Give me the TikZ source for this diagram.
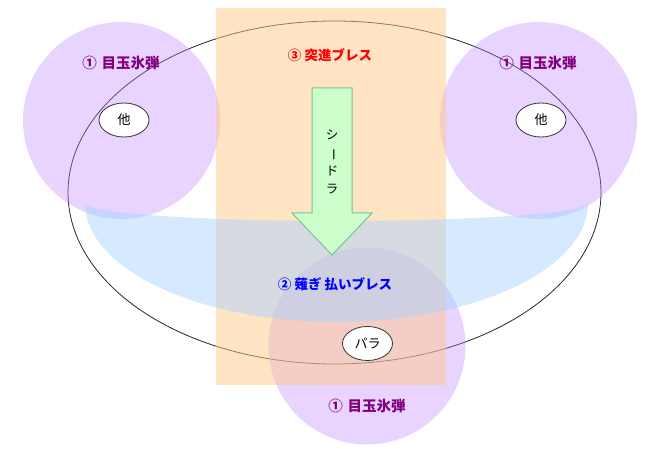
\documentclass[tikz,border=0pt]{standalone}
\usepackage{fontspec}
\setmainfont{Noto Sans CJK JP}
\usetikzlibrary{shapes.geometric}
\definecolor{rectorange}{RGB}{255,201,137}
\definecolor{bandblue}{RGB}{171,211,255}
\definecolor{circpurple}{RGB}{189,132,255}
\definecolor{arrowfill}{RGB}{204,255,204}
\definecolor{arrowline}{RGB}{120,195,145}
\definecolor{labpurple}{RGB}{128,0,128}
\tikzset{
  bubble/.style={circle, fill=circpurple, fill opacity=0.35, draw=none, minimum size=197pt, inner sep=0pt},
  oval/.style={ellipse, draw=black!80, line width=0.8pt, fill=white, minimum width=50pt, minimum height=34pt, inner sep=0pt, font=\fontsize{13}{15}\selectfont},
  lab/.style={font=\bfseries\fontsize{13.5}{16}\selectfont, inner sep=0pt},
  eyelab/.style={lab, text=labpurple, font=\bfseries\fontsize{14.5}{16}\selectfont},
}
\begin{document}
\begin{tikzpicture}[x=1pt,y=-1pt]
\useasboundingbox (0,0) rectangle (651,449);
% big ellipse outline
\draw[line width=0.8pt, black!85] (334.5,192.5) ellipse [x radius=266.5pt, y radius=171.5pt];
% purple circles
\node[bubble] (c1) at (121.5,120.5) {};
\node[bubble] (c2) at (538.5,120.5) {};
\node[bubble] (c3) at (367,346) {};
% orange rectangle
\fill[rectorange, fill opacity=0.5] (216,8) rectangle (446,385);
% blue band
\fill[bandblue, fill opacity=0.5] (85,203) arc[start angle=180, end angle=360, x radius=251.5pt, y radius=119pt]
  arc[start angle=0, end angle=-180, x radius=251.5pt, y radius=18pt] -- cycle;
% arrow
\filldraw[fill=arrowfill, draw=arrowline, line width=1pt]
  (312,88) -- (352,88) -- (352,213) -- (372,213) -- (332,255) -- (292,213) -- (312,213) -- cycle;
\node[align=center, inner sep=0pt, font=\fontsize{12.5}{17.7}\selectfont] (sd) at (332,162)
  {シ\\\rotatebox[origin=c]{-90}{ー}\\ド\\ラ};
% labels
\node[eyelab] (l1) at (121,63) {①\hspace{1.5pt} 目玉氷弾};
\node[eyelab] (l2) at (538,63) {①\hspace{1.5pt} 目玉氷弾};
\node[eyelab] (l3) at (367,406) {①\hspace{1.5pt} 目玉氷弾};
\node[lab, text=red] (l4) at (330,55) {③ 突進ブレス};
\node[lab, text=blue] (l5) at (335,284) {② 薙ぎ 払いブレス};
% white ovals
\node[oval] (o1) at (124,120) {他};
\node[oval] (o2) at (541,120) {他};
\node[oval] (o3) at (367.5,343.5) {パラ};
\end{tikzpicture}
\end{document}
